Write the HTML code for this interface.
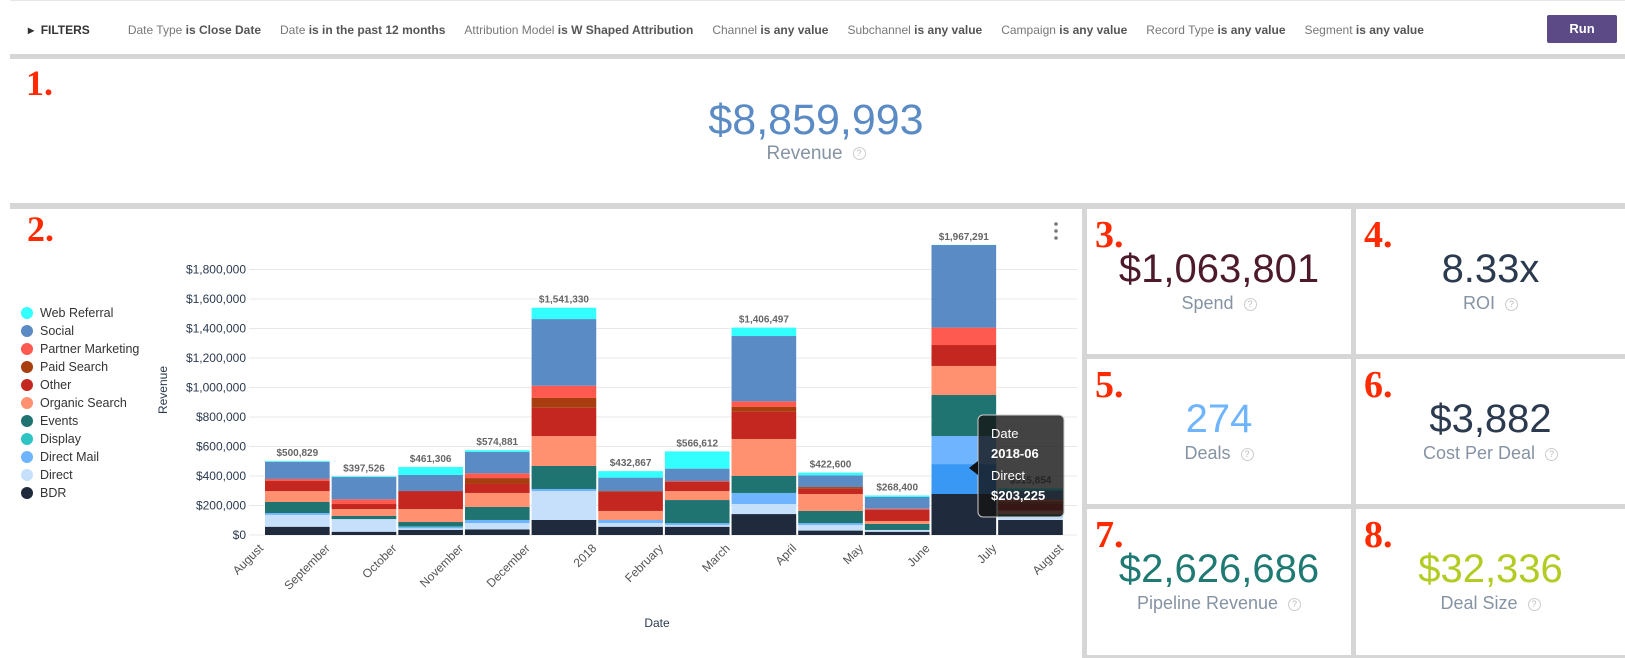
<!DOCTYPE html>
<html><head><meta charset="utf-8"><style>
*{margin:0;padding:0;box-sizing:border-box}
body{width:1625px;height:658px;background:#fff;font-family:"Liberation Sans",sans-serif;position:relative;overflow:hidden}
.abs{position:absolute}
.gray{position:absolute;background:#d6d6d6}
.filters{position:absolute;top:23px;left:28px;font-size:12px;color:#777;white-space:nowrap}
.filters b{color:#555}
.filters span{margin-right:19px}
.num{position:absolute;font-family:"Liberation Serif",serif;font-weight:bold;color:#ff2a00}
.tile{position:absolute;background:#fff}
.tile .v{position:absolute;left:0;right:0;text-align:center;top:40px;font-size:40px;line-height:40px}
.tile .l{position:absolute;left:0;right:0;text-align:center;top:84px;font-size:18px;color:#8593a3}
.help{display:inline-block;width:13px;height:13px;border:1px solid #ccc;border-radius:50%;font-size:9px;line-height:11px;text-align:center;color:#bbb;vertical-align:middle;margin-left:10px}
</style></head><body>
<div class="gray" style="left:10px;top:0;width:1615px;height:1px;background:#e6e6e6"></div>
<div class="filters">
<span style="color:#333;font-weight:bold;margin-right:38px">▸&nbsp; FILTERS</span><span>Date Type <b>is Close Date</b></span><span>Date <b>is in the past 12 months</b></span><span>Attribution Model <b>is W Shaped Attribution</b></span><span>Channel <b>is any value</b></span><span>Subchannel <b>is any value</b></span><span>Campaign <b>is any value</b></span><span>Record Type <b>is any value</b></span><span>Segment <b>is any value</b></span>
</div>
<div class="abs" style="left:1547px;top:15px;width:70px;height:28px;background:#5b4a86;border-radius:2px;color:#fff;font-weight:bold;font-size:13px;text-align:center;line-height:28px">Run</div>
<div class="gray" style="left:10px;top:54px;width:1615px;height:5px"></div>

<div class="num" style="left:26px;top:62px;font-size:36px">1.</div>
<div class="abs" style="left:0;width:1632px;top:96px;text-align:center;font-size:43px;color:#5b8bc5">$8,859,993</div>
<div class="abs" style="left:0;width:1632px;top:143px;text-align:center;font-size:19px;color:#8593a3">Revenue<span class="help">?</span></div>
<div class="gray" style="left:10px;top:203px;width:1615px;height:6px"></div>

<div class="num" style="left:27px;top:208px;font-size:36px">2.</div>
<svg class="abs" style="left:0;top:0" width="1082" height="658" id="chart"></svg>

<div class="gray" style="left:1082px;top:209px;width:5px;height:449px"></div>
<div class="gray" style="left:1351px;top:209px;width:5px;height:449px"></div>
<div class="gray" style="left:1087px;top:354px;width:538px;height:5px"></div>
<div class="gray" style="left:1087px;top:504px;width:538px;height:5px"></div>
<div class="gray" style="left:1087px;top:655px;width:538px;height:3px"></div>

<div class="tile" style="left:1087px;top:209px;width:264px;height:145px"><div class="num" style="left:8px;top:4px;font-size:38px">3.</div><div class="v" style="color:#4d1a2b">$1,063,801</div><div class="l">Spend<span class="help">?</span></div></div>
<div class="tile" style="left:1356px;top:209px;width:269px;height:145px"><div class="num" style="left:8px;top:4px;font-size:38px">4.</div><div class="v" style="color:#2b3a4f">8.33x</div><div class="l">ROI<span class="help">?</span></div></div>
<div class="tile" style="left:1087px;top:359px;width:264px;height:145px"><div class="num" style="left:8px;top:4px;font-size:38px">5.</div><div class="v" style="color:#6fb4ff">274</div><div class="l">Deals<span class="help">?</span></div></div>
<div class="tile" style="left:1356px;top:359px;width:269px;height:145px"><div class="num" style="left:8px;top:4px;font-size:38px">6.</div><div class="v" style="color:#2b3a4f">$3,882</div><div class="l">Cost Per Deal<span class="help">?</span></div></div>
<div class="tile" style="left:1087px;top:509px;width:264px;height:146px"><div class="num" style="left:8px;top:4px;font-size:38px">7.</div><div class="v" style="color:#1f7a73">$2,626,686</div><div class="l">Pipeline Revenue<span class="help">?</span></div></div>
<div class="tile" style="left:1356px;top:509px;width:269px;height:146px"><div class="num" style="left:8px;top:4px;font-size:38px">8.</div><div class="v" style="color:#b3cb22">$32,336</div><div class="l">Deal Size<span class="help">?</span></div></div>

<script>
const tickLabels=["August","September","October","November","December","2018","February","March","April","May","June","July","August"];
const seriesNames=["BDR","Direct","Direct Mail","Display","Events","Organic Search","Other","Paid Search","Partner Marketing","Social","Web Referral"];
const seriesColors=["#1f2a3c","#c6e0fc","#6fb4ff","#2ec4c4","#1f7370","#ff9070","#c4271f","#a83e10","#ff5a4f","#5b8bc5","#33ffff"];
const totals=["$500,829","$397,526","$461,306","$574,881","$1,541,330","$432,867","$566,612","$1,406,497","$422,600","$268,400","$1,967,291","$315,854"];
const yTicks=[0,200000,400000,600000,800000,1000000,1200000,1400000,1600000,1800000];
// values in $ thousands, rows = series (bottom to top), cols = months
const sBDR=[56,22,35,38,102,56,56,142,30,22,278,102];
const sDirect=[80,86,10,43,196,25,12,68,38,12,203,18];
const sDirectMail=[13,0,10,21,14,21,13,75,13,0,190,6];
const sDisplay=[0,0,3,0,0,0,0,0,0,0,0,0];
const sEvents=[75,21,30,88,156,0,156,115,82,41,278,15];
const sOrganic=[74,47,88,95,203,61,61,251,115,20,197,25];
const sOther=[68,34,122,61,192,131,64,185,35,77,142,45];
const sPaid=[0,0,0,40,66,4,0,32,12,0,0,15];
const sPartner=[14,32,0,32,83,0,4,38,0,6,118,15];
const sSocial=[115,151,109,145,452,91,84,443,80,80,560,60];
const sWeb=[6,5,54,12,77,44,117,57,18,10,1,15];
const series=[sBDR,sDirect,sDirectMail,sDisplay,sEvents,sOrganic,sOther,sPaid,sPartner,sSocial,sWeb];

const svg=document.getElementById('chart');
const NS="http://www.w3.org/2000/svg";
const x0=264,step=66.65,y0=535,pxPer=29.5/200000;
const X=i=>x0+i*step;
const Y=v=>y0-v*pxPer;
function mk(t,a){const e=document.createElementNS(NS,t);for(const k in a)e.setAttribute(k,a[k]);svg.appendChild(e);return e;}
yTicks.forEach(v=>{
 const g=mk('line',{x1:249,x2:1077,y1:Y(v),y2:Y(v),stroke:'#e8e8e8','stroke-width':1});
 
 
 const t=mk('text',{x:246,y:Y(v)+4,'text-anchor':'end','font-size':12,fill:'#2b3a4f'});
 t.textContent='$'+v.toLocaleString('en-US');
 
 
});
for(let m=0;m<12;m++){
 let acc=0;
 series.forEach((s,k)=>{
  const v=s[m]*1000;if(v<=0)return;
  const col=(m===10&&k===1)?'#3a98f5':seriesColors[k];
  const r=mk('rect',{x:X(m)+1,y:Y(acc+v),width:step-2,height:v*pxPer,fill:col});
  
  
  acc+=v;
 });
 const t=mk('text',{x:X(m)+step/2,y:Y(acc)-5,'text-anchor':'middle','font-size':10,'font-weight':'bold',fill:'#666'});
 t.textContent=totals[m];
 
 
}
tickLabels.forEach((l,i)=>{
 const t=mk('text',{x:X(i),y:549,'text-anchor':'end','font-size':12,fill:'#555',transform:`rotate(-45 ${X(i)} 549)`});
 t.textContent=l;
 
 
});
let t=mk('text',{x:657,y:627,'text-anchor':'middle','font-size':12,fill:'#2b3a4f'});t.textContent='Date';


t=mk('text',{x:167,y:390,'text-anchor':'middle','font-size':12,fill:'#2b3a4f',transform:'rotate(-90 167 390)'});t.textContent='Revenue';


const legendOrder=[10,9,8,7,6,5,4,3,2,1,0];
legendOrder.forEach((k,i)=>{
 const c=mk('circle',{cx:27,cy:313+18*i,r:6,fill:seriesColors[k]});
 
 
 const tt=mk('text',{x:40,y:317+18*i,'font-size':12.5,fill:'#333'});tt.textContent=seriesNames[k];
 
 
});
[224,231,238].forEach(y=>{const d=mk('circle',{cx:1056,cy:y,r:1.8,fill:'#777'});
 
 });
const tip=mk('rect',{x:978,y:415,width:86,height:102,rx:5,fill:'rgba(20,20,20,0.8)',stroke:'#ccc','stroke-width':1});


const ar=mk('path',{d:'M969 468 L978 461 L978 475 Z',fill:'#111'});


[['Date',438,'normal'],['2018-06',458,'bold'],['Direct',480,'normal'],['$203,225',500,'bold']].forEach(([s,y,w])=>{
 const e=mk('text',{x:991,y:y,'font-size':13,'font-weight':w,fill:'#fff'});e.textContent=s;
 
 
});
</script>
</body></html>
